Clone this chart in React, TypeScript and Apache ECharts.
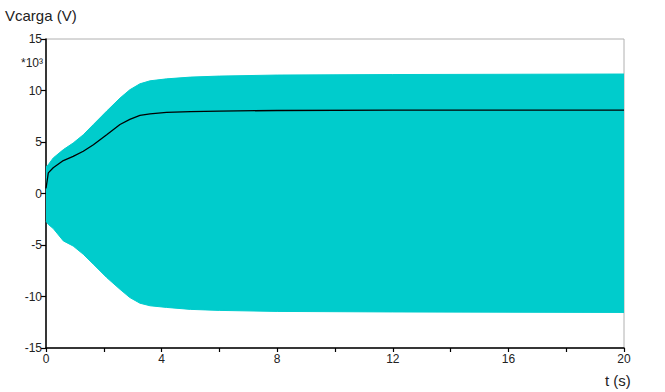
import React, { useEffect, useRef } from "react";
import * as echarts from "echarts";

// time samples (s)
const tSamples = [0, 0.08, 0.25, 0.6, 0.94, 1.29, 1.64, 2.1, 2.56, 2.9, 3.25, 3.6, 4.17, 5, 6, 8, 12, 20];
// upper envelope of load voltage (×10³ V)
const upperEnv = [2.6, 2.8, 3.45, 4.26, 4.9, 5.7, 6.7, 8.0, 9.26, 10.07, 10.65, 10.94, 11.13, 11.3, 11.4, 11.5, 11.55, 11.6];
// lower envelope of load voltage (×10³ V)
const lowerEnv = [-2.68, -3.0, -3.4, -4.6, -5.1, -5.9, -6.87, -8.16, -9.3, -10.1, -10.65, -10.9, -11.06, -11.25, -11.35, -11.45, -11.5, -11.55];
// mean (DC) value (×10³ V)
const meanVal = [0.5, 2.0, 2.5, 3.2, 3.6, 4.1, 4.74, 5.7, 6.7, 7.2, 7.58, 7.74, 7.87, 7.95, 8.0, 8.06, 8.1, 8.1];

const xTicks = [0, 4, 8, 12, 16, 20];
const yTicks = [-15, -10, -5, 0, 5, 10, 15];

const CYAN = "#00cccc";
const FONT = "Liberation Sans";

export default function App() {
  const ref = useRef<HTMLDivElement>(null);
  useEffect(() => {
    if (!ref.current) return;
    const chart = echarts.init(ref.current, null, { renderer: "svg" });
    const pairs = (vals: number[]) => tSamples.map((t, i) => [t, vals[i]]);
    chart.setOption({
      animation: false,
      backgroundColor: "#fff",
      grid: {
        left: 46,
        right: 41,
        top: 39,
        bottom: 44,
        show: true,
        borderColor: "#b0b0b0",
        borderWidth: 1,
        backgroundColor: "transparent",
      },
      xAxis: {
        type: "value",
        min: xTicks[0],
        max: xTicks[xTicks.length - 1],
        interval: 4,
        axisLine: { show: true, onZero: false, lineStyle: { color: "#000", width: 1.5 } },
        axisTick: { show: true, inside: false, length: 4, lineStyle: { color: "#000", width: 1.2 } },
        minorTick: { show: true, splitNumber: 2, length: 4, lineStyle: { color: "#000", width: 1.2 } },
        splitLine: { show: false },
        axisLabel: { color: "#222", fontSize: 12, fontFamily: FONT, margin: 5 },
      },
      yAxis: {
        type: "value",
        min: yTicks[0],
        max: yTicks[yTicks.length - 1],
        interval: 5,
        axisLine: { show: true, onZero: false, lineStyle: { color: "#000", width: 1.5 } },
        axisTick: { show: true, inside: false, length: 5, lineStyle: { color: "#000", width: 1.2 } },
        splitLine: { show: false },
        axisLabel: { color: "#222", fontSize: 12, fontFamily: FONT, margin: 4 },
      },
      graphic: [
        {
          type: "text",
          left: 5,
          top: 8,
          style: { text: "Vcarga (V)", fontSize: 15, fontFamily: FONT, fill: "#222" },
        },
        {
          type: "text",
          left: 21,
          top: 57,
          style: { text: "*10³", fontSize: 12, fontFamily: FONT, fill: "#222" },
        },
        {
          type: "text",
          left: 605,
          top: 373,
          style: { text: "t (s)", fontSize: 15, fontFamily: FONT, fill: "#222" },
        },
      ],
      series: [
        {
          type: "line",
          data: pairs(upperEnv),
          showSymbol: false,
          lineStyle: { color: CYAN, width: 1 },
          areaStyle: { color: CYAN, opacity: 1, origin: -1 },
          z: 1,
        },
        {
          type: "line",
          data: pairs(lowerEnv),
          showSymbol: false,
          lineStyle: { color: CYAN, width: 1 },
          areaStyle: { color: CYAN, opacity: 1, origin: 1 },
          z: 1,
        },
        {
          type: "line",
          data: pairs(meanVal),
          showSymbol: false,
          lineStyle: { color: "#000", width: 1.3 },
          z: 3,
        },
      ],
    });
    return () => chart.dispose();
  }, []);
  return <div ref={ref} style={{ width: 665, height: 392, position: "absolute", left: 0, top: 0 }} />;
}
